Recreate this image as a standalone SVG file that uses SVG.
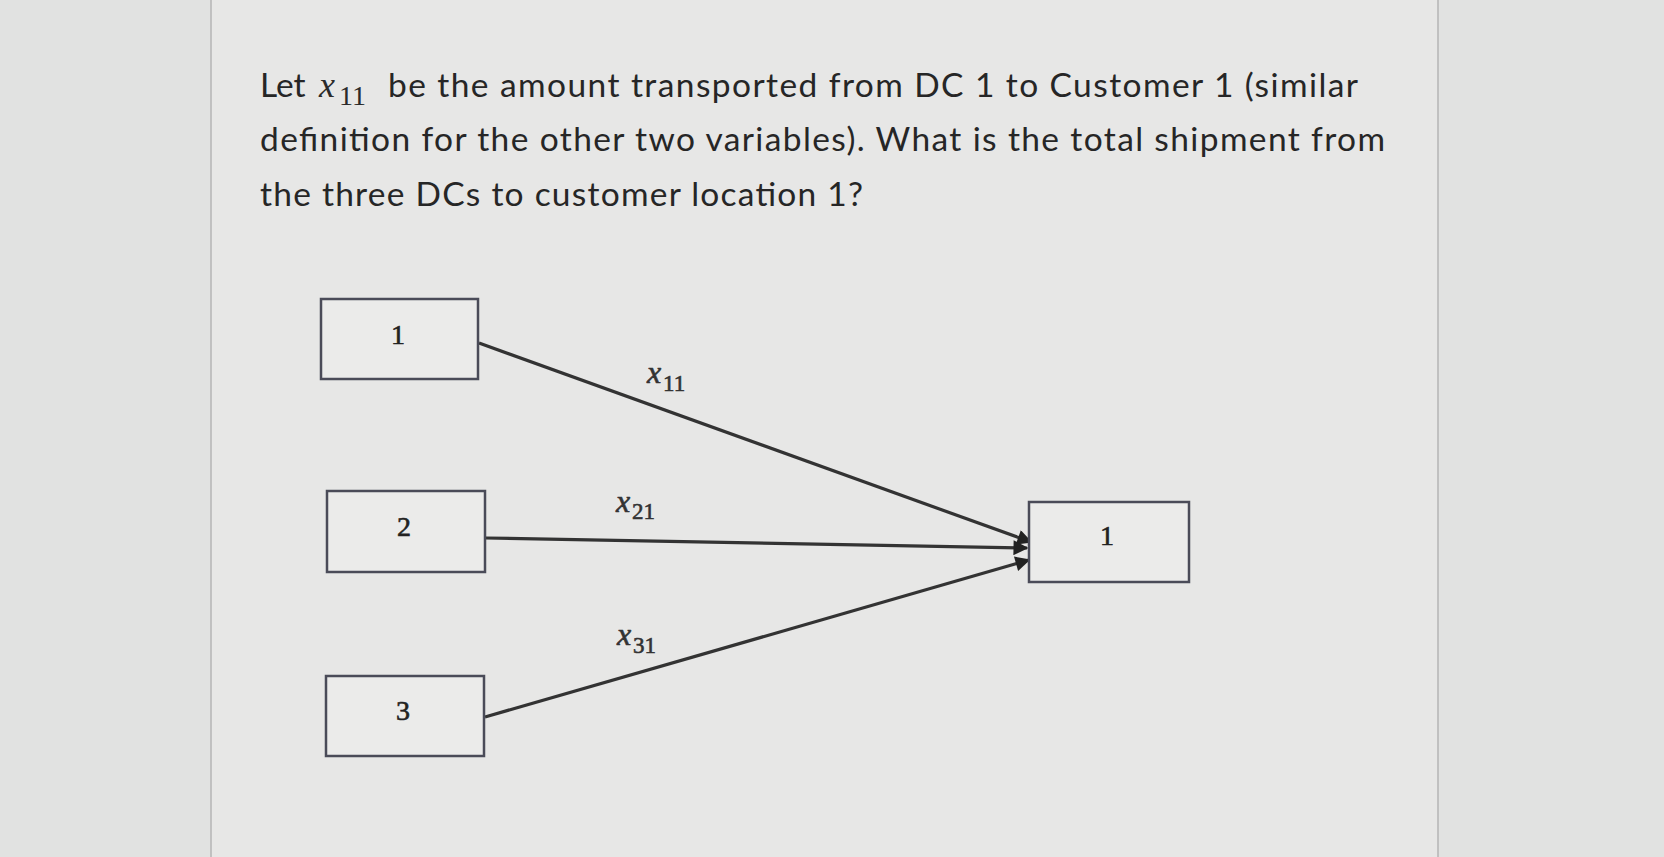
<svg xmlns="http://www.w3.org/2000/svg" width="1664" height="857" viewBox="0 0 1664 857">
  <style>
    .q { font-family: Lato, "Open Sans", sans-serif; font-size: 33.5px; fill: #262626; }
    .mx { font-family: "Liberation Serif", "DejaVu Serif", serif; font-style: italic; fill: #2b2b2b; }
    .sub { font-family: "Liberation Serif", "DejaVu Serif", serif; fill: #2b2b2b; }
    .box { fill: #ebebea; stroke: #4a4b58; stroke-width: 2.5; }
    .lbl { font-family: "Liberation Serif", "DejaVu Serif", serif; font-size: 28px; fill: #222; stroke: #222; stroke-width: 0.6; text-anchor: middle; }
    .edge { stroke: #333; stroke-width: 3.2; fill: none; marker-end: url(#arr); }
    .elab text { fill: #333; stroke: #333; stroke-width: 0.6; }
  </style>
  <defs>
    <marker id="arr" viewBox="0 0 10 10" refX="9" refY="5" markerWidth="17" markerHeight="15" markerUnits="userSpaceOnUse" orient="auto">
      <path d="M0,0 L10,5 L0,10 z" fill="#222"/>
    </marker>
  </defs>
  <rect x="0" y="0" width="1664" height="857" fill="#e1e2e1"/>
  <rect x="211" y="0" width="1227" height="857" fill="#e7e7e6"/>
  <line x1="211" y1="0" x2="211" y2="857" stroke="#b4b5b5" stroke-width="1.5"/>
  <line x1="1438" y1="0" x2="1438" y2="857" stroke="#b4b5b5" stroke-width="1.5"/>

  <g id="question">
    <text class="q" x="260" y="97">Let</text>
    <text class="mx" x="319" y="97" font-size="36">x</text>
    <text class="sub" x="339" y="105" font-size="28">11</text>
    <text class="q" x="388" y="97" textLength="970" lengthAdjust="spacing">be the amount transported from DC 1 to Customer 1 (similar</text>
    <text class="q" x="260" y="151" textLength="1125" lengthAdjust="spacing">definition for the other two variables). What is the total shipment from</text>
    <text class="q" x="260" y="206" textLength="603" lengthAdjust="spacing">the three DCs to customer location 1?</text>
  </g>

  <g id="connectors">
    <line class="edge" x1="479" y1="343" x2="1031" y2="542"/>
    <line class="edge" x1="486" y1="538" x2="1027" y2="548"/>
    <line class="edge" x1="485" y1="717" x2="1029" y2="560"/>
    <g id="label-x11" class="elab">
      <text class="mx" x="647" y="383" font-size="32">x</text>
      <text class="sub" x="663" y="391" font-size="23">11</text>
    </g>
    <g id="label-x21" class="elab">
      <text class="mx" x="616" y="512" font-size="32">x</text>
      <text class="sub" x="632" y="519" font-size="23">21</text>
    </g>
    <g id="label-x31" class="elab">
      <text class="mx" x="617" y="645" font-size="32">x</text>
      <text class="sub" x="633" y="653" font-size="23">31</text>
    </g>
  </g>

  <g id="dc1">
    <rect class="box" x="321" y="299" width="157" height="80"/>
    <text class="lbl" x="398" y="344">1</text>
  </g>
  <g id="dc2">
    <rect class="box" x="327" y="491" width="158" height="81"/>
    <text class="lbl" x="404" y="536">2</text>
  </g>
  <g id="dc3">
    <rect class="box" x="326" y="676" width="158" height="80"/>
    <text class="lbl" x="403" y="720">3</text>
  </g>
  <g id="customer1">
    <rect class="box" x="1029" y="502" width="160" height="80"/>
    <text class="lbl" x="1107" y="545">1</text>
  </g>
</svg>
